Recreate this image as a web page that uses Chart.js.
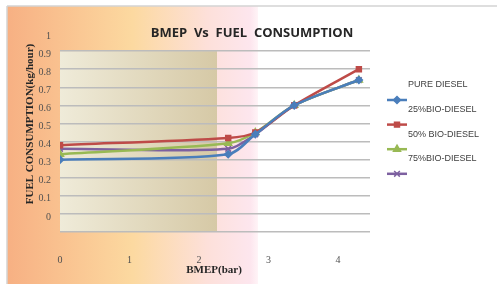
<!DOCTYPE html>
<html>
<head>
<meta charset="utf-8">
<script src="https://cdn.jsdelivr.net/npm/chart.js@4/dist/chart.umd.min.js"></script>
<style>
html,body{margin:0;padding:0;background:#fff;}
#wrap{width:497px;height:284px;position:relative;}
</style>
</head>
<body>
<div id="wrap"><canvas id="fuel" width="497" height="284"></canvas></div>
<script>
// BMEP (bar) on x, fuel consumption (kg/hour) on y
var bmep = [0, 2.42, 2.81, 3.37, 4.3];
var pureDiesel = [0.30, 0.33, 0.44, 0.60, 0.74];
var bio25 = [0.38, 0.42, 0.45, 0.60, 0.80];
var bio50 = [0.33, 0.39, 0.45, 0.60, 0.74];
var bio75 = [0.36, 0.36, 0.44, 0.60, 0.74];
var seriesNames = ['PURE DIESEL', '25%BIO-DIESEL', '50% BIO-DIESEL', '75%BIO-DIESEL'];
var xTicks = [0, 1, 2, 3, 4];
var yTicks = [-0.1, 0, 0.1, 0.2, 0.3, 0.4, 0.5, 0.6, 0.7, 0.8, 0.9, 1];

function pts(vals){
	var out = [];
	for(var i=0;i<bmep.length;++i){
		out.push({x: bmep[i], y: vals[i]});
	}
	return out;
}

function series(label, vals, color, style, r){
	return {
		label: label,
		data: pts(vals),
		borderColor: color,
		backgroundColor: color,
		borderWidth: 2.5,
		pointStyle: style,
		pointRadius: r,
		pointBorderWidth: 1.5,
		tension: 0.3,
		fill: false
	};
}

// background, frame, plot fill, texts and the odd legend
var decor = {
	id: 'decor',
	beforeDraw: function(chart){
		var c = chart.ctx, a = chart.chartArea, y = chart.scales.y;
		c.save();
		c.fillStyle = '#fff';
		c.fillRect(0, 0, chart.width, chart.height);
		var g = c.createLinearGradient(7, 0, 258, 0);
		g.addColorStop(0, '#f7b083');
		g.addColorStop(0.5, '#fcd9a0');
		g.addColorStop(0.8, '#fde0da');
		g.addColorStop(0.97, '#fde6ee');
		g.addColorStop(1, '#fff4f7');
		c.fillStyle = g;
		c.fillRect(7, 6, 251, chart.height - 6);
		c.strokeStyle = '#d4d4d4';
		c.lineWidth = 1.5;
		c.beginPath();
		c.moveTo(7, 6); c.lineTo(chart.width, 6);
		c.moveTo(7, 6); c.lineTo(7, chart.height);
		c.stroke();
		var top = y.getPixelForValue(0.9), bot = y.getPixelForValue(-0.1);
		var g2 = c.createLinearGradient(a.left, 0, 217, 0);
		g2.addColorStop(0, '#efebd9');
		g2.addColorStop(1, '#d6c9a6');
		c.fillStyle = g2;
		c.fillRect(a.left, top, 217 - a.left, bot - top);
		c.restore();
	},
	afterDraw: function(chart){
		var c = chart.ctx;
		c.save();
		c.textAlign = 'center';
		c.textBaseline = 'middle';
		c.fillStyle = '#262626';
		c.font = 'bold 13px "Open Sans", "Liberation Sans", sans-serif';
		c.fillText('BMEP  Vs  FUEL  CONSUMPTION', 252, 33);
		c.font = 'bold 11px "Liberation Serif", "Times New Roman", serif';
		c.fillText('BMEP(bar)', 214, 270);
		c.translate(30, 124);
		c.rotate(-Math.PI/2);
		c.fillText('FUEL CONSUMPTION(kg/hour)', 0, 0);
		c.restore();

		// legend: markers, each name drawn above its own marker
		c.save();
		var ds = chart.data.datasets;
		for(var i=0;i<ds.length;++i){
			var my = 100 + i*24.6;
			c.strokeStyle = ds[i].borderColor;
			c.lineWidth = 2.5;
			c.beginPath();
			c.moveTo(387, my); c.lineTo(407, my);
			c.stroke();
			c.fillStyle = ds[i].backgroundColor;
			c.lineWidth = 1.5;
			Chart.helpers.drawPoint(c, {pointStyle: ds[i].pointStyle, radius: ds[i].pointRadius, borderWidth: 1.5}, 397, my);
			c.font = '9px "Liberation Sans", Arial, sans-serif';
			c.fillStyle = '#404040';
			c.textAlign = 'left';
			c.textBaseline = 'middle';
			c.fillText(seriesNames[i], 408, my - 15);
		}
		c.restore();
	}
};

var ctx = document.getElementById('fuel').getContext('2d');
new Chart(ctx, {
	type: 'line',
	data: {
		datasets: [
			series(seriesNames[0], pureDiesel, '#4a7ebb', 'rectRot', 3.5),
			series(seriesNames[1], bio25, '#be4b48', 'rect', 3.5),
			series(seriesNames[2], bio50, '#98b954', 'triangle', 4),
			series(seriesNames[3], bio75, '#7d60a0', 'crossRot', 4)
		]
	},
	options: {
		responsive: false,
		animation: false,
		layout: {padding: {left: 0, top: 33, right: 127, bottom: 0}},
		plugins: {
			legend: {display: false},
			title: {display: false},
			tooltip: {enabled: false}
		},
		scales: {
			x: {
				type: 'linear',
				min: 0,
				max: 4.46,
				afterBuildTicks: function(s){ s.ticks = xTicks.map(function(v){ return {value: v}; }); },
				afterFit: function(s){ s.height = 52; },
				grid: {display: false},
				border: {display: false},
				ticks: {
					padding: 14,
					color: '#505050',
					font: {family: '"Liberation Serif", serif', size: 10}
				}
			},
			y: {
				min: -0.1,
				max: 1,
				afterBuildTicks: function(s){ s.ticks = yTicks.map(function(v){ return {value: v}; }); },
				afterFit: function(s){ s.width = 60; },
				border: {display: false},
				grid: {
					drawTicks: false,
					lineWidth: 1.5,
					color: function(c){ return c.tick && c.tick.value > 0.95 ? 'rgba(0,0,0,0)' : '#bcbcbc'; }
				},
				ticks: {
					padding: 9,
					labelOffset: 3,
					color: '#505050',
					font: {family: '"Liberation Serif", serif', size: 10},
					callback: function(v){ return v < -0.05 ? '' : String(Math.round(v*10)/10); }
				}
			}
		}
	},
	plugins: [decor]
});
</script>
</body>
</html>
